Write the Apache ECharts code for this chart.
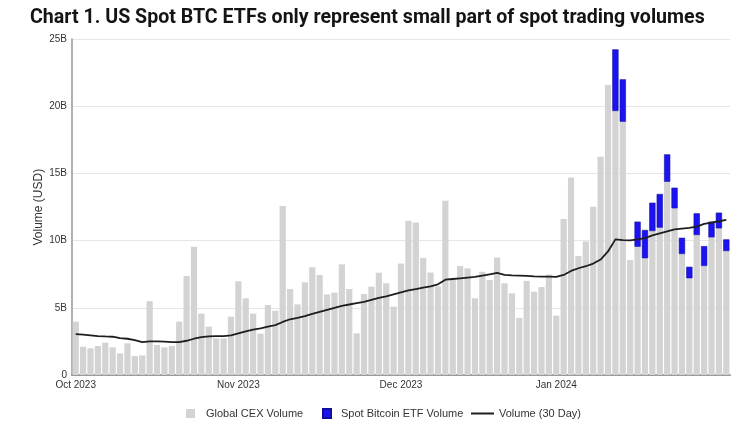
<!DOCTYPE html>
<html>
<head>
<meta charset="utf-8">
<script src="https://cdn.jsdelivr.net/npm/echarts@6/dist/echarts.min.js"></script>
<style>
html,body{margin:0;padding:0;background:#fff;}
#chart{width:750px;height:425px;}
</style>
</head>
<body>
<div id="chart"></div>
<script>
// Trading days (weekdays) on the category axis
const dates = [
'2023-10-02','2023-10-03','2023-10-04','2023-10-05','2023-10-06','2023-10-09','2023-10-10','2023-10-11','2023-10-12','2023-10-13',
'2023-10-16','2023-10-17','2023-10-18','2023-10-19','2023-10-20','2023-10-23','2023-10-24','2023-10-25','2023-10-26','2023-10-27',
'2023-10-30','2023-10-31',
'2023-11-01','2023-11-02','2023-11-03','2023-11-06','2023-11-07','2023-11-08','2023-11-09','2023-11-10','2023-11-13','2023-11-14',
'2023-11-15','2023-11-16','2023-11-17','2023-11-20','2023-11-21','2023-11-22','2023-11-23','2023-11-24','2023-11-27','2023-11-28',
'2023-11-29','2023-11-30',
'2023-12-01','2023-12-04','2023-12-05','2023-12-06','2023-12-07','2023-12-08','2023-12-11','2023-12-12','2023-12-13','2023-12-14',
'2023-12-15','2023-12-18','2023-12-19','2023-12-20','2023-12-21','2023-12-22','2023-12-25','2023-12-26','2023-12-27','2023-12-28',
'2023-12-29',
'2024-01-01','2024-01-02','2024-01-03','2024-01-04','2024-01-05','2024-01-08','2024-01-09','2024-01-10','2024-01-11','2024-01-12',
'2024-01-15','2024-01-16','2024-01-17','2024-01-18','2024-01-19','2024-01-22','2024-01-23','2024-01-24','2024-01-25','2024-01-26',
'2024-01-29','2024-01-30','2024-01-31',
'2024-02-01'
];

// Global CEX volume, USD billions
const cexVolume = [
3.97,2.11,1.99,2.16,2.41,2.06,1.61,2.36,1.41,1.46,
5.5,2.23,2.06,2.16,3.97,7.37,9.55,4.57,3.6,2.73,
2.73,4.34,
6.98,5.71,4.57,3.08,5.21,4.78,12.58,6.4,5.26,6.9,
8.02,7.45,6.0,6.13,8.24,6.4,3.1,6.03,6.58,7.62,
6.83,5.09,
8.3,11.49,11.36,8.72,7.63,6.6,12.98,7.1,8.12,7.94,
5.71,7.69,7.07,8.75,6.83,6.08,4.25,7.01,6.2,6.55,
7.48,
4.42,11.62,14.71,8.87,9.95,12.53,16.26,21.6,19.66,18.86,
8.56,9.55,8.69,10.72,10.97,14.39,12.41,9.01,7.2,10.42,
8.12,10.25,10.92,
9.23
];

// Spot Bitcoin ETF volume, USD billions
const etfDates = ['2024-01-11','2024-01-12','2024-01-16','2024-01-17','2024-01-18','2024-01-19','2024-01-22','2024-01-23',
'2024-01-24','2024-01-25','2024-01-26','2024-01-29','2024-01-30','2024-01-31','2024-02-01'];
const etfVolume = [4.59,3.16,1.87,2.11,2.11,2.51,2.04,1.54,1.21,0.86,1.62,1.48,1.17,1.17,0.87];

// 30-day volume line, USD billions
const volume30d = [
3.05,3.0,2.95,2.9,2.87,2.85,2.75,2.7,2.6,2.45,
2.5,2.5,2.48,2.45,2.45,2.55,2.7,2.82,2.88,2.9,
2.9,2.95,
3.1,3.25,3.38,3.48,3.6,3.72,3.95,4.15,4.25,4.38,
4.55,4.7,4.85,5.0,5.15,5.25,5.35,5.45,5.6,5.75,
5.85,6.0,
6.15,6.3,6.4,6.5,6.6,6.75,7.1,7.15,7.2,7.25,
7.3,7.4,7.5,7.6,7.45,7.42,7.4,7.38,7.35,7.33,
7.33,
7.3,7.45,7.75,7.95,8.1,8.3,8.6,9.2,10.1,10.05,
10.02,10.1,10.2,10.4,10.55,10.7,10.85,10.9,10.95,11.05,
11.25,11.35,11.45,
11.55
];

const tickDates = ['2023-10-02','2023-11-01','2023-12-01','2024-01-01'];
const tickLabels = ['Oct 2023','Nov 2023','Dec 2023','Jan 2024'];
const yTicks = [0,5,10,15,20,25];

const etfSeriesData = dates.map(d => {
  const k = etfDates.indexOf(d);
  return k >= 0 ? etfVolume[k] : null;
});

const FONT = '"Liberation Sans", Arial, sans-serif';
const chart = echarts.init(document.getElementById('chart'), null, {renderer:'canvas'});
chart.setOption({
  animation: false,
  backgroundColor: '#ffffff',
  title: {
    text: 'Chart 1. US Spot BTC ETFs only represent small part of spot trading volumes',
    left: 25, top: 3,
    textStyle: {fontFamily: 'Roboto', fontWeight: 'bold', fontSize: 19.6, color: '#141414'}
  },
  grid: {left: 72, right: 20, top: 39.3, bottom: 50, containLabel: false},
  legend: [
    {data: ['Global CEX Volume'], left: 181, top: 403, itemWidth: 9, itemHeight: 9, icon: 'rect',
     textStyle: {fontFamily: FONT, fontSize: 11, color: '#333', padding: [0,0,0,6]}},
    {data: ['Spot Bitcoin ETF Volume'], left: 317, top: 403, itemWidth: 8, itemHeight: 9, icon: 'rect',
     textStyle: {fontFamily: FONT, fontSize: 11, color: '#333', padding: [0,0,0,5]}},
    {data: ['Volume (30 Day)'], left: 466, top: 403, itemWidth: 23, itemHeight: 2, icon: 'rect',
     textStyle: {fontFamily: FONT, fontSize: 11, color: '#333'}}
  ],
  xAxis: {
    type: 'category',
    data: dates,
    boundaryGap: true,
    axisLine: {show: true, lineStyle: {color: '#999', width: 2}},
    axisTick: {show: false},
    axisLabel: {
      interval: (idx, val) => tickDates.indexOf(val) >= 0,
      formatter: val => {
        const k = tickDates.indexOf(val);
        return k >= 0 ? tickLabels[k] : '';
      },
      fontFamily: FONT, fontSize: 10, color: '#333', margin: 5
    },
    splitLine: {show: false}
  },
  yAxis: {
    type: 'value',
    min: yTicks[0], max: yTicks[yTicks.length - 1], interval: 5,
    name: 'Volume (USD)',
    nameLocation: 'middle',
    nameGap: 27,
    nameMoveOverlap: false,
    nameTextStyle: {fontFamily: FONT, fontSize: 12, color: '#333'},
    axisLine: {show: true, lineStyle: {color: '#b0b0b0', width: 2}},
    axisTick: {show: false},
    axisLabel: {
      formatter: v => v === 0 ? '0' : v + 'B',
      fontFamily: FONT, fontSize: 10, color: '#333', margin: 5
    },
    splitLine: {show: true, lineStyle: {color: '#e6e6e6', width: 1}}
  },
  series: [
    {
      name: 'Global CEX Volume',
      type: 'bar',
      stack: 'vol',
      data: cexVolume,
      barCategoryGap: '16%',
      itemStyle: {color: '#d3d3d3'}
    },
    {
      name: 'Spot Bitcoin ETF Volume',
      type: 'bar',
      stack: 'vol',
      data: etfSeriesData,
      itemStyle: {color: '#1d12f2', borderColor: '#12109a', borderWidth: 0.6}
    },
    {
      name: 'Volume (30 Day)',
      type: 'line',
      data: volume30d,
      symbol: 'none',
      showSymbol: false,
      lineStyle: {color: '#1e1e1e', width: 1.8},
      itemStyle: {color: '#1e1e1e'},
      z: 5
    }
  ]
});
</script>
</body>
</html>
